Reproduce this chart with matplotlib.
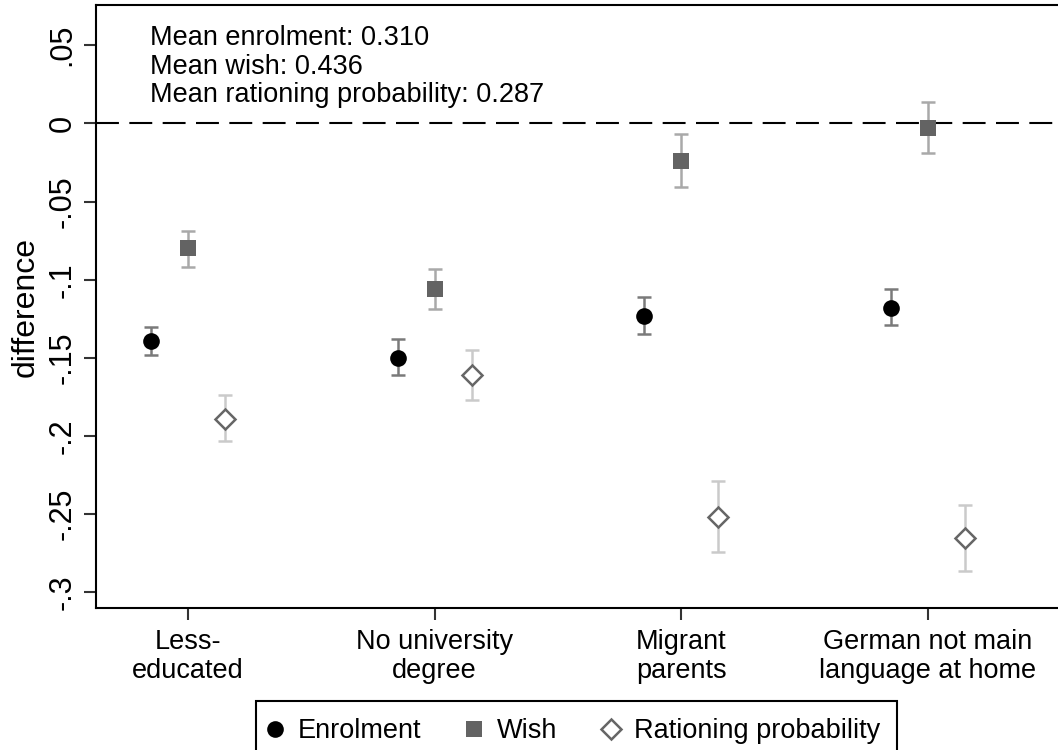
import matplotlib
matplotlib.use("Agg")
import matplotlib.pyplot as plt
from matplotlib.lines import Line2D
import numpy as np

plt.rcParams['font.family'] = ['Liberation Sans', 'DejaVu Sans']

# categories and point estimates (difference to reference group)
categories = ["Less-\neducated", "No university\ndegree",
              "Migrant\nparents", "German not main\nlanguage at home"]

enrol = [-0.139, -0.150, -0.123, -0.118]
enrol_lo = [-0.148, -0.161, -0.135, -0.129]
enrol_hi = [-0.130, -0.138, -0.111, -0.106]

wish = [-0.080, -0.106, -0.024, -0.003]
wish_lo = [-0.092, -0.119, -0.041, -0.019]
wish_hi = [-0.069, -0.093, -0.007, 0.0135]

ration = [-0.189, -0.161, -0.252, -0.265]
ration_lo = [-0.203, -0.177, -0.274, -0.286]
ration_hi = [-0.174, -0.145, -0.229, -0.244]

yticks = [0.05, 0, -0.05, -0.1, -0.15, -0.2, -0.25, -0.3]
ytick_labels = [".05", "0", "-.05", "-.1", "-.15", "-.2", "-.25", "-.3"]

note = "Mean enrolment: 0.310\nMean wish: 0.436\nMean rationing probability: 0.287"

fig = plt.figure(figsize=(10.58, 7.5), dpi=100)
ax = fig.add_axes([0.0911, 0.1893, 0.9089, 0.8038])

x = np.arange(1, len(categories) + 1)
off = 0.15

def draw(xs, y, lo, hi, ecol, **mk):
    y = np.array(y)
    err = [y - np.array(lo), np.array(hi) - y]
    ax.errorbar(xs, y, yerr=err, fmt='none', ecolor=ecol, elinewidth=1.8,
                capsize=5, capthick=1.8, zorder=2)
    ax.plot(xs, y, ls='none', zorder=3, **mk)

m_enrol = dict(marker='o', ms=12, mfc='black', mec='black', mew=0)
m_wish = dict(marker='s', ms=12, mfc='#636363', mec='#636363', mew=0)
m_ration = dict(marker='D', ms=10, mfc='white', mec='#666666', mew=1.8)

draw(x - off, enrol, enrol_lo, enrol_hi, '#7a7a7a', **m_enrol)
draw(x, wish, wish_lo, wish_hi, '#a9a9a9', **m_wish)
draw(x + off, ration, ration_lo, ration_hi, '#cacaca', **m_ration)

ax.axhline(0, color='black', lw=1.5, ls=(0, (11, 5)), zorder=1)

ax.set_xlim(0.629, 4.527)
ax.set_ylim(-0.310, 0.0756)
ax.set_xticks(x)
ax.set_xticklabels(categories, fontsize=19.5, linespacing=1.15)
ax.set_yticks(yticks)
ax.set_yticklabels(ytick_labels, fontsize=22, rotation=90, va='center')
ax.tick_params(axis='both', length=8.5, width=1.5, color='#333333')
ax.tick_params(axis='x', pad=6.5)
ax.tick_params(axis='y', pad=5)

ax.set_ylabel("difference", fontsize=23)
ax.yaxis.set_label_coords(-0.0576, 0.5)

for s in ['left', 'top', 'bottom']:
    ax.spines[s].set_linewidth(1.5)
ax.spines['right'].set_visible(False)

fig.text(0.1418, 0.9665, note, fontsize=19.5, va='top', ha='left', linespacing=1.13)

handles = [Line2D([], [], ls='none', **m_enrol),
           Line2D([], [], ls='none', **m_wish),
           Line2D([], [], ls='none', **m_ration)]
leg = fig.legend(handles, ["Enrolment", "Wish", "Rationing probability"],
                 loc='upper left', bbox_to_anchor=(0.242, 0.0657), ncol=3,
                 fontsize=19.5, frameon=True, fancybox=False, framealpha=1,
                 edgecolor='black', borderaxespad=0, borderpad=0.65,
                 handlelength=0.1, handletextpad=0.8, columnspacing=1.9)
leg.get_frame().set_linewidth(1.5)

fig.savefig("out.png", dpi=100)
